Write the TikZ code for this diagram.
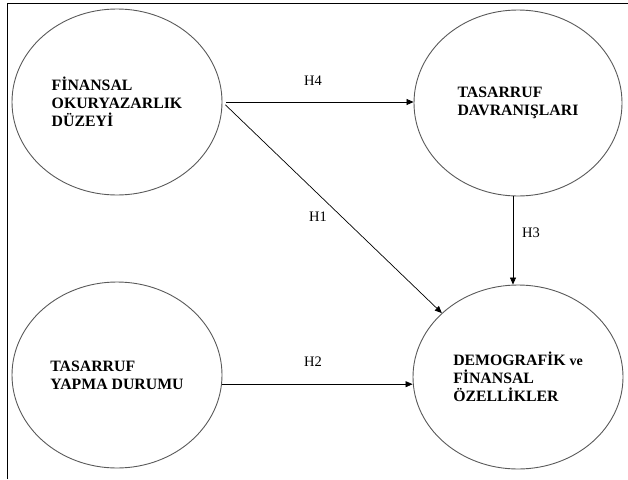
\documentclass[tikz,border=0pt]{standalone}
\usepackage{fontspec}
\setmainfont{Liberation Serif}
\usetikzlibrary{shapes.geometric,arrows.meta}
\begin{document}
\begin{tikzpicture}[x=1pt,y=-1pt,
  oval/.style={ellipse, draw=black!65, line width=0.9pt, minimum width=210pt, minimum height=186pt,
    inner sep=0pt, align=left, font=\fontsize{15.8}{18}\selectfont\bfseries},
  conn/.style={draw=black, line width=0.7pt, -{Triangle[length=7pt,width=6pt]}},
  hlab/.style={font=\fontsize{14.5}{16}\selectfont, inner sep=0pt}]
\useasboundingbox (0,0) rectangle (628,479);
\draw[line width=0.8pt] (7,479) -- (7,3) -- (628,3);
\node[oval] (tl) at (117,102) {FİNANSAL\\OKURYAZARLIK\\DÜZEYİ};
\node[oval, minimum width=208pt] (tr) at (518,103) {TASARRUF\\DAVRANIŞLARI};
\node[oval] (bl) at (117,375) {TASARRUF\\YAPMA DURUMU};
\node[oval, minimum height=184pt] (br) at (518,377) {DEMOGRAFİK {\fontsize{14}{18}\selectfont ve}\\FİNANSAL\\ÖZELLİKLER};
\draw[conn, shorten <=4pt] (tl.east) -- (tl.east -| tr.west);
\draw[conn, shorten <=4pt] (tl.east) -- (br.140);
\draw[conn] ([xshift=-5pt]tr.south) -- ([xshift=-5pt]br.north);
\draw[conn] (bl.-5) -- (bl.-5 -| br.west);
\node[hlab] (h4) at (313,81) {H4};
\node[hlab] (h1) at (318,217) {H1};
\node[hlab] (h3) at (531,233) {H3};
\node[hlab] (h2) at (313,362) {H2};
\end{tikzpicture}
\end{document}
